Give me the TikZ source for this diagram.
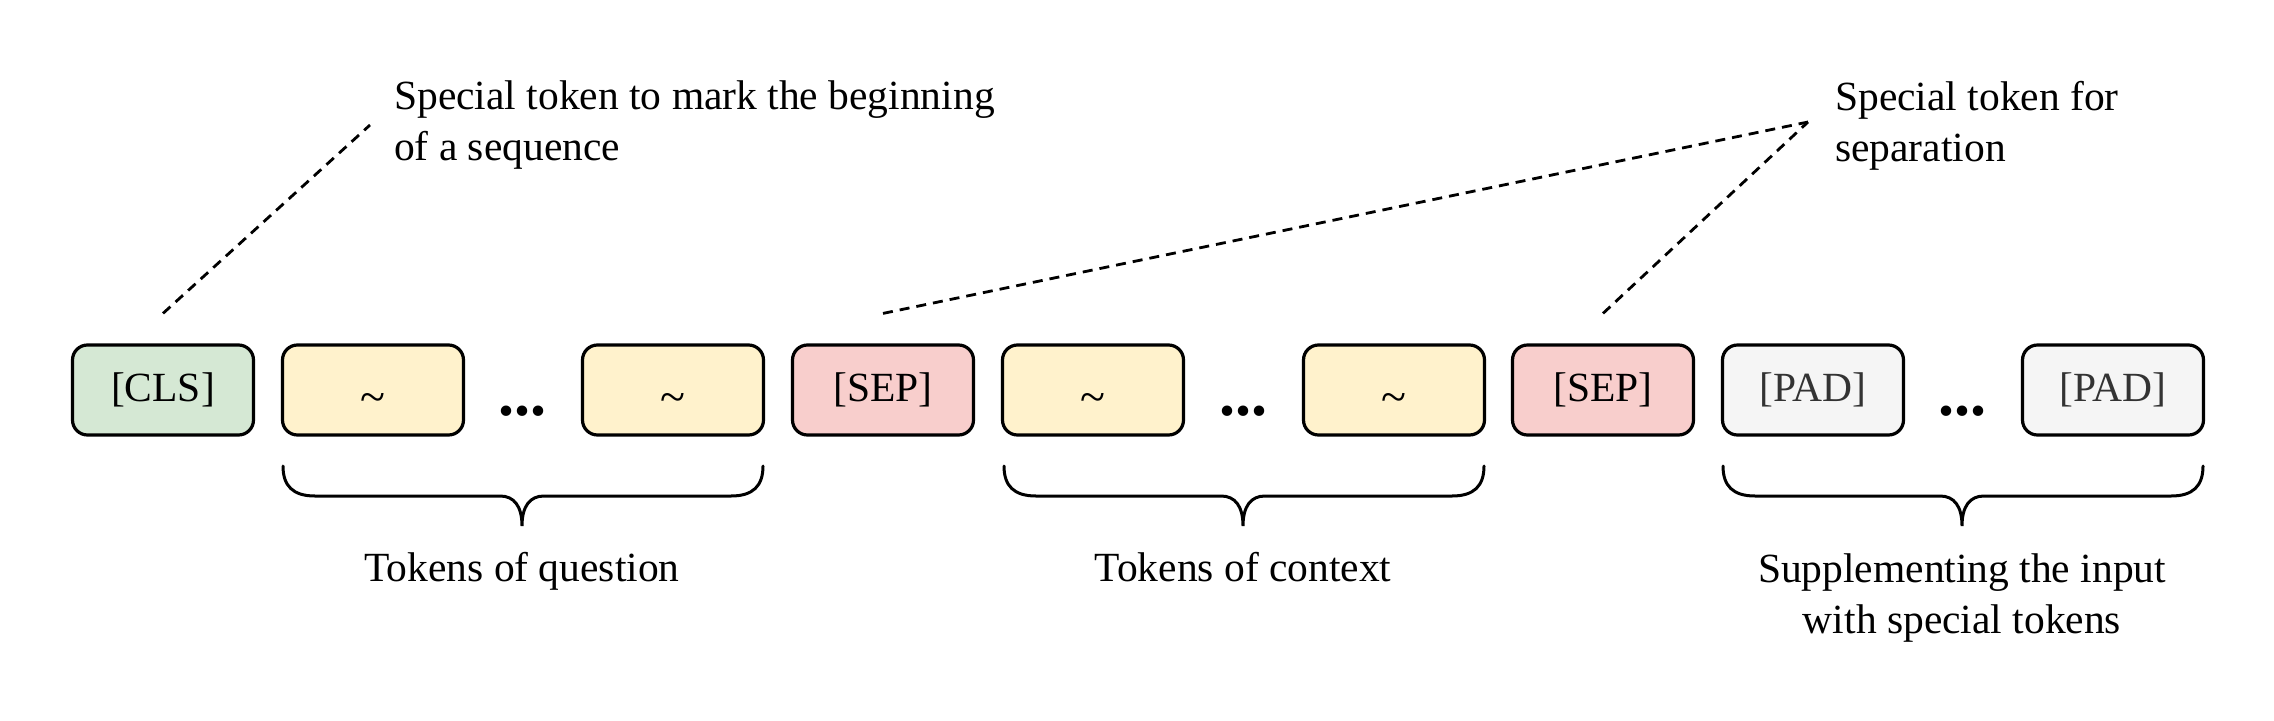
\documentclass[tikz,border=0pt]{standalone}
\usepackage{fontspec}
\setmainfont{Liberation Serif}
\definecolor{cgreen}{HTML}{D5E8D4}
\definecolor{cyellow}{HTML}{FFF2CC}
\definecolor{cred}{HTML}{F8CECC}
\definecolor{cgray}{HTML}{F5F5F5}
\definecolor{cpadtext}{HTML}{333333}
\tikzset{
  tok/.style={draw=black, line width=3.2pt, rounded corners=15pt, minimum width=181pt, minimum height=90pt, inner sep=0pt, font=\fontsize{41.5}{50}\selectfont},
  clsbox/.style={tok, fill=cgreen},
  qbox/.style={tok, fill=cyellow},
  sepbox/.style={tok, fill=cred},
  padbox/.style={tok, fill=cgray, text=cpadtext},
  dotsnode/.style={inner sep=0pt, anchor=base, font=\fontsize{64}{64}\selectfont\bfseries},
  lbl/.style={inner sep=0pt, font=\fontsize{41.5}{51}\selectfont},
  callout/.style={draw=black, line width=2.8pt, dash pattern=on 10pt off 7pt},
  bracepath/.style={draw=black, line width=3pt, line cap=round}
}
\newcommand{\tokfill}{\raisebox{-22pt}[0pt][0pt]{\fontsize{46}{50}\selectfont\textasciitilde}}
\begin{document}
\begin{tikzpicture}[x=1pt, y=-1pt]
\path[use as bounding box] (0,0) rectangle (2274,720);

% token boxes
\node[clsbox] (cls) at (163,390) {[CLS]};
\node[qbox] (q1) at (373,390) {\tokfill};
\node[dotsnode] (d1) at (522,415) {...};
\node[qbox] (q2) at (673,390) {\tokfill};
\node[sepbox] (sep1) at (883,390) {[SEP]};
\node[qbox] (c1) at (1093,390) {\tokfill};
\node[dotsnode] (d2) at (1243,415) {...};
\node[qbox] (c2) at (1394,390) {\tokfill};
\node[sepbox] (sep2) at (1603,390) {[SEP]};
\node[padbox] (p1) at (1813,390) {[PAD]};
\node[dotsnode] (d3) at (1962,415) {...};
\node[padbox] (p2) at (2113,390) {[PAD]};

% braces
\draw[bracepath] (283,466) .. controls (283,486) and (293,496) .. (315,496)
  -- (500,496) .. controls (514,496) and (522,506) .. (522,526)
  .. controls (522,506) and (530,496) .. (544,496)
  -- (731,496) .. controls (753,496) and (763,486) .. (763,466);
\draw[bracepath] (1004,466) .. controls (1004,486) and (1014,496) .. (1036,496)
  -- (1221,496) .. controls (1235,496) and (1243,506) .. (1243,526)
  .. controls (1243,506) and (1251,496) .. (1265,496)
  -- (1452,496) .. controls (1474,496) and (1484,486) .. (1484,466);
\draw[bracepath] (1723,466) .. controls (1723,486) and (1733,496) .. (1755,496)
  -- (1940,496) .. controls (1954,496) and (1962,506) .. (1962,526)
  .. controls (1962,506) and (1970,496) .. (1984,496)
  -- (2171,496) .. controls (2193,496) and (2203,486) .. (2203,466);

% brace labels
\node[lbl, anchor=base] (lq) at (522,581) {Tokens of question};
\node[lbl, anchor=base] (lc) at (1243,581) {Tokens of context};
\node[lbl, align=center, anchor=north] (lp) at (1962,553) {Supplementing the input\\with special tokens};

% callout texts
\node[lbl, align=left, anchor=north west] (tcls) at (394,81) {Special token to mark the beginning\\of a sequence};
\node[lbl, align=left, anchor=north west] (tsep) at (1835,81) {Special token for\\separation};

% callout lines
\coordinate (clsend) at ([yshift=30pt]cls.north);
\coordinate (sep1end) at ([yshift=30pt]sep1.north);
\coordinate (sep2end) at ([yshift=30pt]sep2.north);
\coordinate (clstop) at (370,125);
\coordinate (septop) at (1808,122);
\draw[callout] (clsend) -- (clstop);
\draw[callout] (sep1end) -- (septop);
\draw[callout] (sep2end) -- (septop);
\end{tikzpicture}
\end{document}
